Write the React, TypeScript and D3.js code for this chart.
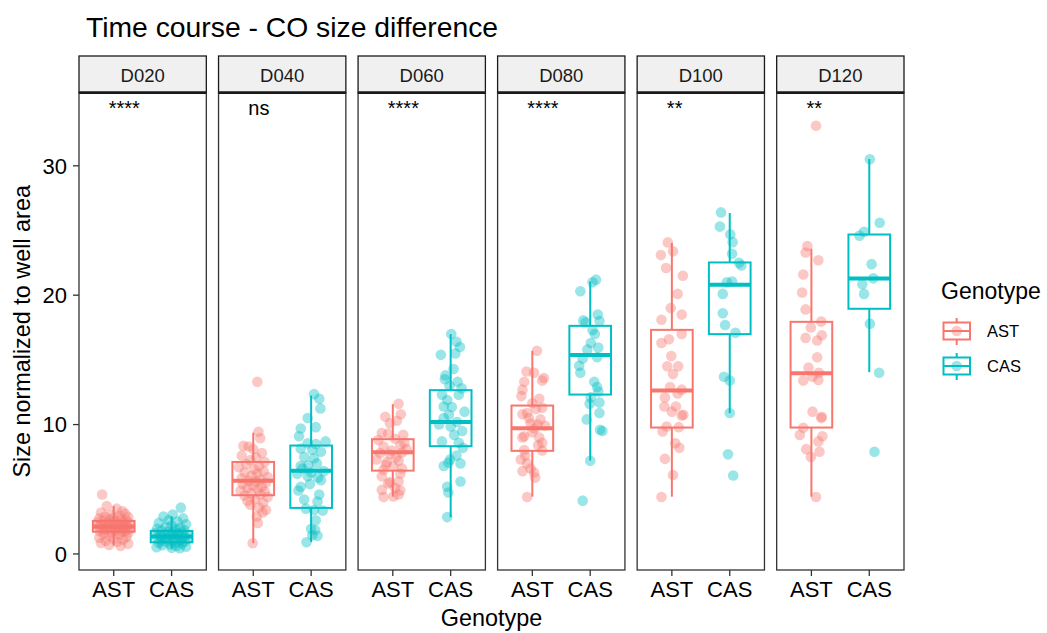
import * as d3 from "d3";

// facets, groups and labels
const days = ["D020", "D040", "D060", "D080", "D100", "D120"];
const genotypes = ["AST", "CAS"];
const signifLabels = ["****", "ns", "****", "****", "**", "**"];
const yTicks = [0, 10, 20, 30];

// box stats per day: [lower whisker, q1, median, q3, upper whisker]
const astBox = [
  [0.64, 1.72, 2.11, 2.55, 3.7],
  [0.83, 4.54, 5.65, 7.11, 9.38],
  [4.43, 6.44, 7.86, 8.87, 11.58],
  [4.43, 7.97, 9.72, 11.47, 15.7],
  [4.43, 9.77, 12.63, 17.32, 24.03],
  [4.43, 9.77, 13.97, 17.94, 23.59],
];
const casBox = [
  [0.44, 0.9, 1.34, 1.78, 2.9],
  [0.93, 3.56, 6.44, 8.38, 12.24],
  [2.84, 8.33, 10.19, 12.66, 16.99],
  [7.22, 12.32, 15.37, 17.63, 21.06],
  [10.88, 16.99, 20.8, 22.53, 26.35],
  [14.05, 18.95, 21.29, 24.69, 30.52],
];

// jittered points: [jitter (in category units), value]
const astD020 = [[-0.2,4.6],[-0.12,3.7],[0.05,3.5],[0.15,3.3],[-0.22,3.2],[0.2,3.1],[-0.05,3.0],[0.1,2.95],[-0.15,2.9],[0.25,2.85],[0.0,2.8],[-0.25,2.75],[0.12,2.7],[-0.08,2.65],[0.22,2.6],[-0.18,2.55],[0.05,2.52],[0.17,2.48],[-0.28,2.45],[-0.02,2.42],[0.27,2.38],[-0.12,2.35],[0.08,2.3],[0.2,2.27],[-0.22,2.25],[0.0,2.2],[-0.1,2.17],[0.14,2.14],[0.24,2.12],[-0.26,2.1],[0.03,2.08],[-0.16,2.05],[0.18,2.02],[-0.06,2.0],[0.1,1.97],[0.28,1.94],[-0.2,1.9],[0.02,1.87],[-0.12,1.84],[0.2,1.8],[0.07,1.77],[-0.24,1.74],[0.15,1.72],[-0.04,1.68],[0.25,1.62],[-0.17,1.55],[0.1,1.48],[-0.08,1.4],[0.22,1.32],[-0.25,1.25],[0.0,1.18],[0.16,1.1],[-0.14,1.02],[0.06,0.95],[-0.22,0.85],[0.25,0.78],[-0.08,0.7],[0.12,0.62]];
const casD020 = [[0.16,3.58],[0.02,3.05],[-0.14,2.9],[0.2,2.75],[-0.05,2.6],[0.1,2.5],[-0.22,2.4],[0.25,2.3],[0.0,2.2],[-0.1,2.1],[0.15,2.02],[-0.25,1.95],[0.07,1.9],[0.22,1.85],[-0.17,1.8],[0.04,1.76],[-0.06,1.72],[0.18,1.66],[-0.28,1.62],[0.1,1.58],[-0.12,1.54],[0.26,1.5],[0.0,1.46],[-0.2,1.42],[0.13,1.38],[-0.03,1.35],[0.21,1.32],[-0.15,1.28],[0.06,1.25],[-0.25,1.22],[0.28,1.18],[-0.08,1.15],[0.15,1.1],[-0.18,1.06],[0.02,1.02],[0.23,0.98],[-0.1,0.94],[0.1,0.9],[-0.22,0.86],[0.18,0.8],[-0.02,0.74],[-0.16,0.68],[0.08,0.62],[0.25,0.56],[-0.26,0.52],[0.0,0.47],[0.14,0.44]];
const astD040 = [[0.07,13.3],[0.09,9.45],[0.12,8.95],[-0.17,8.35],[-0.08,8.3],[0.0,8.1],[0.15,7.8],[-0.2,7.6],[0.05,7.45],[-0.05,7.25],[0.2,7.1],[-0.12,6.95],[0.1,6.8],[-0.25,6.7],[0.02,6.55],[0.18,6.4],[-0.15,6.3],[0.07,6.2],[-0.03,6.05],[0.25,5.95],[-0.2,5.85],[0.12,5.75],[-0.08,5.65],[0.04,5.6],[0.22,5.5],[-0.18,5.4],[0.0,5.3],[0.15,5.2],[-0.1,5.1],[0.08,5.0],[-0.22,4.9],[0.2,4.8],[-0.04,4.7],[0.12,4.6],[-0.15,4.5],[0.25,4.4],[0.03,4.25],[-0.1,4.1],[0.17,3.95],[-0.05,3.8],[0.1,3.6],[0.22,3.4],[0.16,3.2],[0.06,2.9],[0.08,2.4],[-0.01,0.83]];
const casD040 = [[0.05,12.35],[0.14,12.0],[0.16,11.25],[-0.06,10.5],[-0.18,9.7],[0.08,9.8],[-0.21,9.1],[-0.06,8.55],[0.08,8.5],[-0.18,8.15],[0.02,8.05],[0.17,7.9],[-0.12,7.5],[0.05,7.4],[-0.18,6.8],[-0.05,6.85],[0.1,7.0],[-0.24,6.2],[-0.06,6.0],[0.17,5.7],[-0.18,5.2],[-0.02,5.4],[0.12,5.9],[-0.12,4.2],[0.11,4.05],[-0.09,3.5],[0.05,3.4],[0.2,3.35],[0.08,2.6],[0.0,1.95],[0.07,1.85],[0.02,1.45],[0.11,1.4],[-0.08,0.9],[-0.15,6.6],[0.22,6.4],[0.0,6.3],[0.14,4.6],[-0.22,4.9],[0.25,8.7]];
const astD060 = [[0.1,11.6],[-0.13,10.6],[0.14,10.8],[-0.05,10.1],[0.07,10.3],[-0.19,9.35],[-0.08,9.3],[0.18,9.2],[-0.25,8.8],[0.04,8.9],[-0.16,8.3],[0.13,8.4],[0.24,8.1],[-0.22,7.8],[-0.05,7.7],[0.16,7.85],[-0.28,7.3],[-0.1,7.1],[0.1,7.2],[-0.16,6.5],[0.01,6.8],[0.16,6.6],[-0.19,6.0],[0.13,6.2],[0.1,5.6],[-0.05,5.55],[-0.08,5.45],[-0.19,4.95],[0.04,5.1],[0.13,4.9],[-0.16,4.4],[0.01,4.45],[0.1,4.6],[0.2,8.6],[-0.02,8.0],[0.06,7.5],[-0.12,6.9]];
const casD060 = [[0.01,17.0],[0.1,16.4],[0.16,16.0],[-0.17,15.4],[0.08,15.5],[0.05,14.3],[-0.09,13.8],[0.12,13.3],[-0.02,13.0],[-0.15,12.3],[0.14,12.3],[-0.06,11.9],[-0.12,11.4],[0.02,11.35],[-0.03,10.75],[-0.12,10.5],[0.11,10.2],[0.0,9.85],[0.2,9.5],[-0.15,8.7],[0.14,8.6],[0.21,8.2],[0.1,7.6],[-0.01,7.3],[-0.12,6.8],[-0.04,7.05],[0.17,7.0],[0.17,5.6],[-0.06,5.2],[-0.04,4.75],[-0.06,2.85],[0.24,11.0],[-0.2,10.0],[0.06,9.2],[-0.1,13.5],[0.19,12.8]];
const astD080 = [[0.08,15.7],[-0.1,14.1],[0.03,14.0],[0.2,13.6],[0.17,13.4],[-0.14,13.3],[-0.17,12.7],[-0.19,12.2],[0.12,12.0],[0.0,11.65],[0.17,11.3],[0.06,11.2],[-0.09,10.9],[-0.17,10.8],[0.14,10.4],[-0.03,10.1],[0.09,10.0],[0.04,9.7],[-0.14,9.1],[-0.17,9.0],[0.12,9.0],[0.17,8.6],[0.0,9.4],[-0.14,8.04],[0.17,8.0],[-0.2,7.3],[-0.09,7.0],[0.03,6.3],[-0.17,6.4],[-0.03,6.6],[-0.09,4.4],[0.22,9.9],[-0.06,10.5],[0.1,8.4],[-0.12,7.6],[0.05,5.9]];
const casD080 = [[0.1,21.2],[0.04,21.0],[-0.17,20.3],[0.13,18.5],[-0.12,18.05],[-0.08,17.9],[0.16,18.0],[0.04,17.3],[0.08,17.0],[0.01,16.3],[0.14,15.95],[-0.05,15.8],[0.12,15.2],[-0.13,15.1],[-0.19,14.55],[-0.17,14.0],[0.07,13.3],[0.12,12.9],[0.14,12.55],[0.01,12.1],[-0.01,11.6],[0.16,11.7],[0.16,10.9],[-0.06,10.4],[0.17,9.6],[0.21,9.5],[0.0,7.2],[-0.13,4.12]];
const astD100 = [[-0.07,24.08],[-0.19,23.1],[0.02,23.4],[-0.1,22.1],[0.19,21.5],[0.1,20.1],[-0.02,19.0],[0.17,18.5],[-0.18,18.1],[0.17,17.0],[-0.18,16.3],[-0.05,16.6],[-0.01,15.3],[-0.08,14.5],[0.11,14.5],[0.02,13.9],[-0.03,12.9],[0.17,12.7],[0.1,12.4],[-0.12,12.1],[-0.13,11.4],[0.07,11.4],[0.0,11.0],[0.17,10.7],[0.2,10.75],[-0.16,9.46],[-0.09,9.85],[0.12,9.8],[0.06,8.56],[0.13,8.2],[-0.12,7.35],[0.02,6.1],[-0.18,4.4]];
const casD100 = [[-0.15,26.4],[-0.17,25.3],[0.01,24.7],[0.05,24.1],[0.04,23.2],[0.16,22.5],[0.2,22.3],[-0.05,21.0],[0.04,21.05],[-0.12,20.1],[-0.12,18.6],[-0.08,17.7],[0.1,17.1],[-0.1,13.7],[0.0,13.4],[0.0,10.9],[-0.03,7.7],[0.06,6.06]];
const astD120 = [[0.08,33.1],[-0.07,23.8],[-0.1,23.3],[0.12,22.7],[-0.14,21.6],[-0.16,20.2],[-0.1,18.9],[0.17,17.96],[-0.01,17.5],[0.18,16.9],[-0.1,16.7],[0.1,16.5],[0.1,15.2],[-0.05,14.4],[0.13,14.0],[0.02,13.7],[-0.14,13.4],[0.12,13.45],[0.02,11.0],[0.18,10.6],[0.17,10.5],[-0.14,9.75],[-0.2,9.2],[0.19,9.1],[0.12,8.7],[-0.09,8.1],[0.14,7.9],[-0.01,7.5],[0.08,4.4]];
const casD120 = [[0.01,30.5],[0.18,25.6],[-0.09,24.9],[-0.17,24.6],[0.04,22.4],[0.07,21.3],[-0.12,20.85],[-0.09,20.1],[0.01,17.8],[0.17,14.0],[0.09,7.9]];

const astPoints = [astD020, astD040, astD060, astD080, astD100, astD120];
const casPoints = [casD020, casD040, casD060, casD080, casD100, casD120];

const colors = { AST: "#F8766D", CAS: "#00BFC4" };
const font = "'Liberation Sans', Arial, Helvetica, sans-serif";

export default function App() {
  const width = 1047;
  const height = 633;
  const panelTop = 92.7;
  const panelBottom = 570;
  const stripTop = 56;

  const facetX = d3.scaleBand().domain(days).range([79, 904]).paddingInner(0.0875);
  const bw = facetX.bandwidth();
  const xIn = d3.scaleLinear().domain([0.4, 2.6]).range([0, bw]);
  const y = d3.scaleLinear().domain([-1.24, 35.65]).range([panelBottom, panelTop]);
  // box width of 0.72 category units
  const boxW = xIn(1.72) - xIn(1);

  const labelY = 33.9;

  return (
    <svg
      width={width}
      height={height}
      style={{ position: "absolute", left: 0, top: 0, background: "#fff" }}
      fontFamily={font}
    >
      <rect width={width} height={height} fill="#fff" />
      <text x={86} y={37} fontSize={28.3} fill="#000">
        Time course - CO size difference
      </text>

      {days.map((day, i) => {
        const x0 = facetX(day)!;
        const groups = [
          { g: "AST", box: astBox[i], pts: astPoints[i], pos: 1 },
          { g: "CAS", box: casBox[i], pts: casPoints[i], pos: 2 },
        ];
        return (
          <g key={day} transform={`translate(${x0},0)`}>
            {/* strip */}
            <rect x={0} y={stripTop} width={bw} height={panelTop - stripTop} fill="#F0F0F0" stroke="#1a1a1a" strokeWidth={1.3} />
            <text x={bw / 2} y={82} textAnchor="middle" fontSize={18.5} fill="#1a1a1a">
              {day}
            </text>
            {/* panel */}
            <rect x={0} y={panelTop} width={bw} height={panelBottom - panelTop} fill="#fff" stroke="#333" strokeWidth={1.3} />
            <line x1={0} x2={bw} y1={panelTop} y2={panelTop} stroke="#1a1a1a" strokeWidth={2.7} />

            {groups.map(({ g, box, pts, pos }) => {
              const cx = xIn(pos);
              const c = colors[g as "AST" | "CAS"];
              const [lo, q1, med, q3, hi] = box;
              return (
                <g key={g}>
                  <line x1={cx} x2={cx} y1={y(hi)} y2={y(q3)} stroke={c} strokeWidth={2} />
                  <line x1={cx} x2={cx} y1={y(q1)} y2={y(lo)} stroke={c} strokeWidth={2} />
                  <rect x={cx - boxW / 2} y={y(q3)} width={boxW} height={y(q1) - y(q3)} fill="none" stroke={c} strokeWidth={2} />
                  <line x1={cx - boxW / 2} x2={cx + boxW / 2} y1={y(med)} y2={y(med)} stroke={c} strokeWidth={4} />
                  {pts.map(([jx, v], k) => (
                    <circle key={k} cx={xIn(pos + jx)} cy={y(v)} r={5.3} fill={c} fillOpacity={0.4} />
                  ))}
                </g>
              );
            })}

            {/* significance label */}
            <text x={xIn(1) - 5} y={y(labelY)} fontSize={20} fill="#000">
              {signifLabels[i]}
            </text>

            {/* x ticks */}
            {genotypes.map((g, k) => (
              <g key={g}>
                <line x1={xIn(k + 1)} x2={xIn(k + 1)} y1={panelBottom} y2={panelBottom + 6} stroke="#333" strokeWidth={1.3} />
                <text x={xIn(k + 1)} y={597} textAnchor="middle" fontSize={22} fill="#000">
                  {g}
                </text>
              </g>
            ))}
          </g>
        );
      })}

      {/* y axis */}
      {yTicks.map((t) => (
        <g key={t}>
          <line x1={73} x2={79} y1={y(t)} y2={y(t)} stroke="#333" strokeWidth={1.3} />
          <text x={67} y={y(t)} dy="0.36em" textAnchor="end" fontSize={22} fill="#000">
            {t}
          </text>
        </g>
      ))}

      <text
        transform={`translate(30,${(panelTop + panelBottom) / 2}) rotate(-90)`}
        textAnchor="middle"
        fontSize={23.4}
        fill="#000"
      >
        Size normalized to well area
      </text>
      <text x={(79 + 904) / 2} y={626} textAnchor="middle" fontSize={23.4} fill="#000">
        Genotype
      </text>

      {/* legend */}
      <text x={941} y={299} fontSize={23} fill="#000">
        Genotype
      </text>
      {genotypes.map((g, k) => {
        const cy = 331 + k * 35;
        const c = colors[g as "AST" | "CAS"];
        return (
          <g key={g}>
            <line x1={956.7} x2={956.7} y1={cy - 13} y2={cy + 14} stroke={c} strokeWidth={2} />
            <rect x={943.5} y={cy - 8.5} width={26.5} height={17} fill="#fff" stroke={c} strokeWidth={2} />
            <line x1={943.5} x2={970} y1={cy} y2={cy} stroke={c} strokeWidth={2} />
            <circle cx={956.7} cy={cy} r={5.3} fill={c} fillOpacity={0.4} />
            <text x={987} y={cy + 6} fontSize={16.5} fill="#000">
              {g}
            </text>
          </g>
        );
      })}
    </svg>
  );
}
